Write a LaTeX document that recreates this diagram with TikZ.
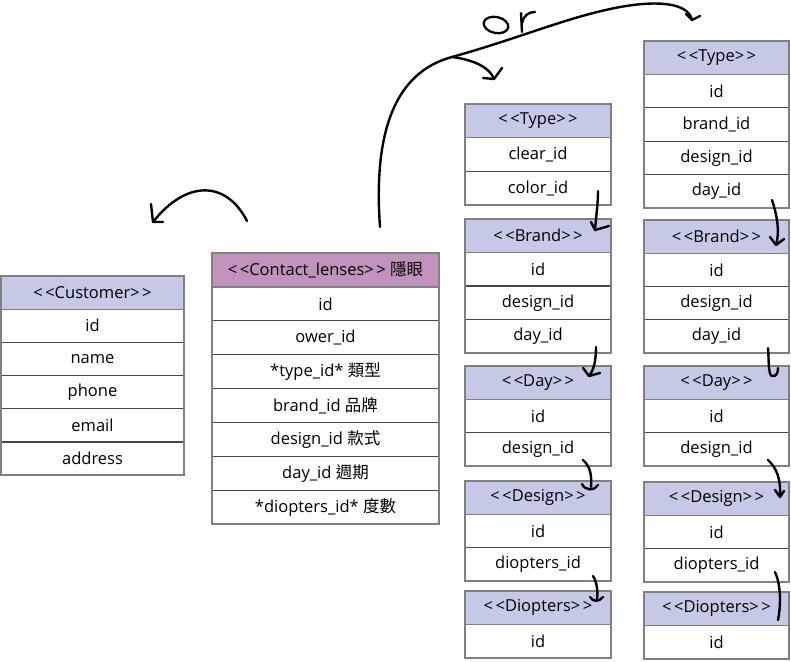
\documentclass[tikz,border=0pt]{standalone}
\usepackage{fontspec}
\setmainfont{Open Sans}
\newfontfamily\cjk{Noto Sans CJK TC}
\definecolor{hdrblue}{RGB}{197,201,229}
\definecolor{hdrpurple}{RGB}{192,146,188}
\definecolor{edgegray}{RGB}{128,128,128}
\definecolor{rulegray}{RGB}{70,70,70}

\tikzset{
  cellbox/.style={draw=rulegray, line width=1.1pt, fill=white, inner sep=0pt, outer sep=0pt},
  hdrb/.style={fill=hdrblue},
  hdrp/.style={fill=hdrpurple},
  frame/.style={draw=edgegray, line width=1.8pt},
  hand/.style={draw=black, line width=2.4pt, line cap=round, line join=round},
}

% stereotype label: spaced angle brackets, kept apart so they stay plain
\newcommand\stereo[1]{<\kern2.5pt<#1>\kern2.5pt>}

% #1 name, #2 x, #3 y (top-left), #4 width, #5 row height, #6 header fill, #7 header, #8 rows
\newcommand\erbox[8]{%
  \node[cellbox,#6,minimum width=#4pt,minimum height=#5pt,anchor=north west] (#1-0) at (#2,#3) {#7};
  \foreach \t [count=\i, remember=\i as \j (initially 0)] in {#8}{
    \node[cellbox,minimum width=#4pt,minimum height=#5pt,anchor=north] (#1-\i) at (#1-\j.south) {\t};
    \xdef\erlast{\i}
  }
  \draw[frame] (#1-0.north west) rectangle (#1-\erlast.south east);
  \draw[edgegray, line width=1.4pt] (#1-0.south west) -- (#1-0.south east);
}

\begin{document}
\begin{tikzpicture}[x=1pt, y=-1pt, font=\fontsize{16.5}{19}\selectfont]
\useasboundingbox (0,0) rectangle (791,661);

% customer and lens tables
\erbox{cust}{1}{276}{183}{33.2}{hdrb}{\stereo{Customer}}{id,name,phone,email,address}
\erbox{lens}{212}{253}{227}{33.9}{hdrp}{\stereo{Contact\_lenses} {\cjk 隱眼}}%
  {id,ower\_id,*type\_id* {\cjk 類型},brand\_id {\cjk 品牌},design\_id {\cjk 款式},day\_id {\cjk 週期},*diopters\_id* {\cjk 度數}}

% first chain
\erbox{ltype}{465}{104}{146}{33.7}{hdrb}{\stereo{Type}}{clear\_id,color\_id}
\erbox{lbrand}{465}{219}{146}{33.5}{hdrb}{\stereo{Brand}}{id,design\_id,day\_id}
\erbox{lday}{465}{366}{146}{33.3}{hdrb}{\stereo{Day}}{id,design\_id}
\erbox{ldesign}{465}{481}{146}{33.3}{hdrb}{\stereo{Design}}{id,diopters\_id}
\erbox{ldiop}{465}{591}{146}{33.5}{hdrb}{\stereo{Diopters}}{id}

% second chain
\erbox{rtype}{644}{41}{145}{33.4}{hdrb}{\stereo{Type}}{id,brand\_id,design\_id,day\_id}
\erbox{rbrand}{644}{220}{145}{33.25}{hdrb}{\stereo{Brand}}{id,design\_id,day\_id}
\erbox{rday}{644}{366}{145}{33.3}{hdrb}{\stereo{Day}}{id,design\_id}
\erbox{rdesign}{644}{482}{145}{33.3}{hdrb}{\stereo{Design}}{id,diopters\_id}
\erbox{rdiop}{644}{592}{145}{33.5}{hdrb}{\stereo{Diopters}}{id}

% hand-drawn connector ends
\coordinate (lensup) at (247,221);
\coordinate (custtip) at (153,222);
\coordinate (lensroot) at (380,227);
\coordinate (fork) at (452,57);
\coordinate (ltip) at (494,79);
\coordinate (rtip) at (692,20);

% lens -> customer
\draw[hand] (lensup) .. controls (226,180) and (186,180) .. (custtip);
\draw[hand] (151,204) -- (custtip) -- (163,222);

% lens -> either type table
\draw[hand] (lensroot) .. controls (373,130) and (396,72) .. (fork)
  .. controls (520,38) and (565,18) .. (615,8) .. controls (655,0) and (688,2) .. (rtip);
\draw[hand] (686,14) -- (rtip) -- (700,16);
\draw[hand] (fork) .. controls (475,60) and (490,68) .. (ltip);
\draw[hand] (483,78) -- (ltip) -- (502,68);

% handwritten "or"
\draw[black, line width=2.3pt, rotate around={-12:(496,25)}] (496,25) ellipse [x radius=12.5, y radius=8];
\draw[hand] (521,13) -- (522,32);
\draw[hand] (522,23) .. controls (524,15) and (529,12) .. (535,12);

% first chain links
\coordinate (a1) at (598,191); \coordinate (a1t) at (595,230);
\draw[hand] (a1) .. controls (598,205) and (596,216) .. (a1t);
\draw[hand] (591,222) -- (a1t) -- (609,226);

\coordinate (a2) at (596,347); \coordinate (a2t) at (589,376);
\draw[hand] (a2) .. controls (596,360) and (594,370) .. (a2t);
\draw[hand] (583,368) -- (a2t) -- (600,373);

\coordinate (a3) at (583,460); \coordinate (a3t) at (591,487);
\draw[hand] (a3) .. controls (590,466) and (592,475) .. (a3t);
\draw[hand] (582,484) .. controls (585,491) and (595,491) .. (598,485);

\coordinate (a4) at (593,576); \coordinate (a4t) at (597,599);
\draw[hand] (a4) .. controls (597,582) and (598,592) .. (a4t);
\draw[hand] (590,597) .. controls (593,602) and (599,602) .. (603,597);

% second chain links
\coordinate (b1) at (772,200); \coordinate (b1t) at (776,245);
\draw[hand] (b1) .. controls (777,215) and (780,232) .. (b1t);
\draw[hand] (770,237) -- (b1t) -- (784,239);

\coordinate (b2) at (768,348); \coordinate (b2t) at (778,368);
\draw[hand] (b2) .. controls (769,360) and (768,375) .. (772,376) .. controls (776,377) and (778,373) .. (b2t);

\coordinate (b3) at (768,460); \coordinate (b3t) at (780,497);
\draw[hand] (b3) .. controls (777,468) and (781,480) .. (b3t);
\draw[hand] (775,490) -- (b3t) -- (784,491);

\coordinate (b4) at (775,572); \coordinate (b4t) at (778,620);
\draw[hand] (b4) .. controls (781,585) and (781,605) .. (b4t);
\end{tikzpicture}
\end{document}
